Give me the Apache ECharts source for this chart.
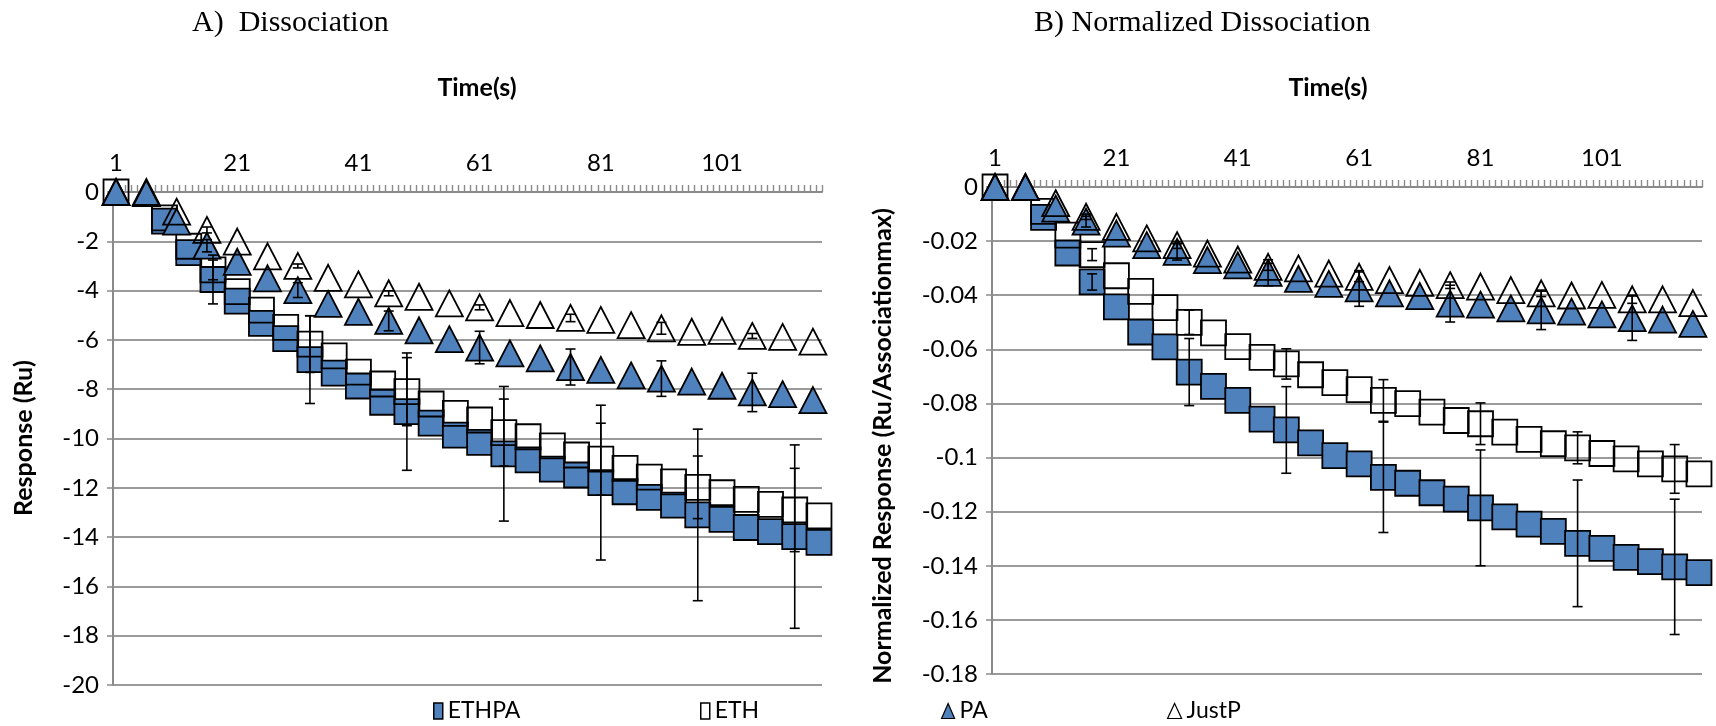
<!DOCTYPE html>
<html>
<head>
<meta charset="utf-8">
<script src="https://cdn.jsdelivr.net/npm/echarts@6/dist/echarts.min.js"></script>
<style>
  html, body { margin: 0; padding: 0; background: #fff; }
  #chart { width: 1716px; height: 726px; }
</style>
</head>
<body>
<div id="chart"></div>
<script>
// Time axis (s): one category per second
const timeLabels = Array.from({ length: 117 }, (_, i) => String(i + 1));

// Sampling times: ETHPA squares, ETH squares, PA / JustP triangles
const ethpaTimes = [9, 13, 17, 21, 25, 29, 33, 37, 41, 45, 49, 53, 57, 61, 65, 69, 73, 77, 81, 85, 89, 93, 97, 101, 105, 109, 113, 117];
const ethTimes = [1, 9, 13, 17, 21, 25, 29, 33, 37, 41, 45, 49, 53, 57, 61, 65, 69, 73, 77, 81, 85, 89, 93, 97, 101, 105, 109, 113, 117];
const triangleTimes = [1, 6, 11, 16, 21, 26, 31, 36, 41, 46, 51, 56, 61, 66, 71, 76, 81, 86, 91, 96, 101, 106, 111, 116];

// Times carrying error bars
const squareErrTimes = [17, 33, 49, 65, 81, 97, 113];
const triangleErrTimes = [16, 31, 46, 61, 76, 91, 106];

// A) Dissociation, response (Ru)
const ethpaA = [-1.18, -2.46, -3.55, -4.43, -5.33, -5.95, -6.8, -7.35, -7.87, -8.53, -8.91, -9.38, -9.86, -10.16, -10.62, -10.87, -11.24, -11.48, -11.79, -12.16, -12.39, -12.70, -13.10, -13.28, -13.61, -13.78, -13.98, -14.21];
const ethA = [0, -1.05, -2.2, -3.16, -4.04, -4.79, -5.49, -6.17, -6.65, -7.31, -7.79, -8.10, -8.6, -8.98, -9.25, -9.76, -9.93, -10.30, -10.67, -10.84, -11.21, -11.57, -11.76, -11.98, -12.20, -12.47, -12.67, -12.90, -13.14];
const paA = [0, -0.05, -1.2, -2.18, -2.83, -3.5, -3.98, -4.54, -4.86, -5.23, -5.61, -5.97, -6.31, -6.55, -6.75, -7.1, -7.22, -7.44, -7.57, -7.69, -7.86, -8.13, -8.2, -8.44];
const justpA = [0, 0, -0.8, -1.54, -2.01, -2.61, -3.0, -3.48, -3.75, -4.11, -4.25, -4.52, -4.68, -4.91, -4.99, -5.11, -5.19, -5.4, -5.53, -5.67, -5.63, -5.84, -5.88, -6.07];
const ethpaErrA = [0.99, 1.78, 2.38, 2.73, 3.14, 3.48, 3.72];
const ethErrA = [0.4, 1.15, 1.38, 1.36, 1.46, 1.27, 1.69];
const paErrA = [0.25, 0.3, 0.4, 0.66, 0.73, 0.72, 0.78];
const justpErrA = [0.12, 0.08, 0.1, 0.1, 0.15, 0.24, 0.1];

// B) Normalized dissociation (Ru/Associationmax)
const ethpaB = [-0.0112, -0.0244, -0.0351, -0.0443, -0.0536, -0.0591, -0.0684, -0.0737, -0.0789, -0.0858, -0.0898, -0.0946, -0.0993, -0.1023, -0.1073, -0.1095, -0.113, -0.1154, -0.1186, -0.1219, -0.1246, -0.1273, -0.1317, -0.1336, -0.1369, -0.1385, -0.1404, -0.1425];
const ethB = [0, -0.009, -0.0178, -0.025, -0.0328, -0.0386, -0.0446, -0.05, -0.0539, -0.059, -0.063, -0.0654, -0.0694, -0.0723, -0.0749, -0.0789, -0.0801, -0.0832, -0.0863, -0.0875, -0.0906, -0.0933, -0.0949, -0.0964, -0.0985, -0.1005, -0.1023, -0.1042, -0.106];
const paB = [0, 0, -0.008, -0.0128, -0.0172, -0.0215, -0.024, -0.027, -0.029, -0.0317, -0.034, -0.0358, -0.0375, -0.0393, -0.0403, -0.0431, -0.0435, -0.0449, -0.0456, -0.0461, -0.0471, -0.0485, -0.049, -0.0506];
const justpB = [0, 0, -0.006, -0.011, -0.0147, -0.019, -0.0215, -0.0246, -0.0268, -0.0295, -0.0301, -0.032, -0.0332, -0.0344, -0.0354, -0.0363, -0.0368, -0.0381, -0.0393, -0.0401, -0.0399, -0.0415, -0.0415, -0.0429];
const ethpaErrB = [0.003, 0.0124, 0.016, 0.0204, 0.0214, 0.0234, 0.025];
const ethErrB = [0.0022, 0.0045, 0.0056, 0.0077, 0.0077, 0.0059, 0.009];
const paErrB = [0.002, 0.003, 0.0048, 0.0066, 0.0068, 0.0071, 0.0082];
const justpErrB = [0.001, 0.0012, 0.0013, 0.0018, 0.0012, 0.0012, 0.0015];

const BLUE = '#4f81bd';
const AXIS_GRAY = '#8a8a8a';
const GRID_GRAY = '#9a9a9a';
const NUM_FONT = 'Lato';

function points(times, values) {
  return times.map((t, i) => [t - 1, values[i]]);
}
function bars(errTimes, times, values, errs) {
  return errTimes.map((t, i) => {
    const v = values[times.indexOf(t)];
    return [t - 1, v - errs[i], v + errs[i]];
  });
}

function renderErrorBar(params, api) {
  const x = api.value(0);
  const top = api.coord([x, api.value(2)]);
  const bottom = api.coord([x, api.value(1)]);
  const half = 5;
  const style = { stroke: '#000', lineWidth: 1.6 };
  return {
    type: 'group',
    children: [
      { type: 'line', shape: { x1: top[0], y1: top[1], x2: bottom[0], y2: bottom[1] }, style },
      { type: 'line', shape: { x1: top[0] - half, y1: top[1], x2: top[0] + half, y2: top[1] }, style },
      { type: 'line', shape: { x1: bottom[0] - half, y1: bottom[1], x2: bottom[0] + half, y2: bottom[1] }, style }
    ]
  };
}

const filledMark = { color: BLUE, borderColor: '#000', borderWidth: 1.8, opacity: 1 };
const openMark = { color: 'rgba(255,255,255,0)', borderColor: '#000', borderWidth: 1.8, opacity: 1 };

function panelSeries(idx, ethpa, eth, pa, justp, eEthpa, eEth, ePa, eJustp) {
  const common = { xAxisIndex: idx, yAxisIndex: idx, silent: true, emphasis: { disabled: true } };
  const list = [
    { ...common, name: 'ETHPA', type: 'scatter', symbol: 'rect', symbolSize: 25, z: 2, itemStyle: filledMark, data: points(ethpaTimes, ethpa) },
    { ...common, name: 'ETH', type: 'scatter', symbol: 'rect', symbolSize: 25, z: 3, itemStyle: openMark, data: points(ethTimes, eth) },
    { ...common, name: 'PA', type: 'scatter', symbol: 'triangle', symbolSize: [27, 26], z: 4, itemStyle: filledMark, data: points(triangleTimes, pa) },
    { ...common, name: 'JustP', type: 'scatter', symbol: 'triangle', symbolSize: [27, 26], z: 5, itemStyle: openMark, data: points(triangleTimes, justp) }
  ];
  const errs = [
    bars(squareErrTimes, ethpaTimes, ethpa, eEthpa),
    bars(squareErrTimes, ethTimes, eth, eEth),
    bars(triangleErrTimes, triangleTimes, pa, ePa),
    bars(triangleErrTimes, triangleTimes, justp, eJustp)
  ];
  errs.forEach((d, k) => {
    list.push({ ...common, name: 'err' + idx + '_' + k, type: 'custom', z: 6, renderItem: renderErrorBar, encode: { x: 0, y: [1, 2] }, data: d });
  });
  return list;
}

function xAxisFor(idx) {
  return {
    type: 'category', gridIndex: idx, position: 'top', data: timeLabels, boundaryGap: true,
    axisLine: { show: true, lineStyle: { color: AXIS_GRAY, width: 2 } },
    axisTick: { show: true, interval: 0, length: 7, lineStyle: { color: AXIS_GRAY, width: 1.4 } },
    axisLabel: { interval: 19, margin: 17, color: '#000', fontFamily: NUM_FONT, fontSize: 24 },
    splitLine: { show: false }
  };
}
function yAxisFor(idx, min, interval) {
  return {
    type: 'value', gridIndex: idx, min: min, max: 0, interval: interval,
    axisLine: { show: true, lineStyle: { color: AXIS_GRAY, width: 2 } },
    axisTick: { show: true, length: 6, lineStyle: { color: AXIS_GRAY, width: 1.5 } },
    axisLabel: { margin: 14, color: '#000', fontFamily: NUM_FONT, fontSize: 24 },
    splitLine: { show: true, lineStyle: { color: GRID_GRAY, width: 2 } }
  };
}

function legendFor(left, name, icon, w, h, style) {
  return {
    left: left, top: 698, padding: 0, itemWidth: w, itemHeight: h, selectedMode: false,
    textStyle: { fontFamily: NUM_FONT, fontSize: 23, color: '#000', lineHeight: 26 },
    data: [{ name: name, icon: icon, itemStyle: style }]
  };
}

const chart = echarts.init(document.getElementById('chart'), null, { renderer: 'canvas' });
chart.setOption({
  animation: false,
  backgroundColor: '#fff',
  grid: [
    { left: 113, top: 192, width: 709, height: 493 },
    { left: 992, top: 187, width: 710, height: 487 }
  ],
  xAxis: [xAxisFor(0), xAxisFor(1)],
  yAxis: [yAxisFor(0, -20, 2), yAxisFor(1, -0.18, 0.02)],
  legend: [
    legendFor(433, 'ETHPA', 'rect', 9, 16, { color: BLUE, borderColor: '#000', borderWidth: 1.5, opacity: 1 }),
    legendFor(700, 'ETH', 'rect', 9, 16, { color: '#fff', borderColor: '#000', borderWidth: 1.5, opacity: 1 }),
    legendFor(941, 'PA', 'triangle', 13, 15, { color: BLUE, borderColor: '#000', borderWidth: 1.2, opacity: 1 }),
    legendFor(1167, 'JustP', 'triangle', 14, 15, { color: '#fff', borderColor: '#000', borderWidth: 1.2, opacity: 1 })
  ],
  graphic: [
    { type: 'text', style: { x: 192, y: 23, text: 'A)  Dissociation', font: '30px "Liberation Serif"', fill: '#000', align: 'left', verticalAlign: 'middle' } },
    { type: 'text', style: { x: 1034, y: 23, text: 'B) Normalized Dissociation', font: '30px "Liberation Serif"', fill: '#000', align: 'left', verticalAlign: 'middle' } },
    { type: 'text', style: { x: 477, y: 88, text: 'Time(s)', font: 'bold 25px Lato', fill: '#000', align: 'center', verticalAlign: 'middle' } },
    { type: 'text', style: { x: 1328, y: 88, text: 'Time(s)', font: 'bold 25px Lato', fill: '#000', align: 'center', verticalAlign: 'middle' } },
    { type: 'text', x: 24, y: 438, rotation: Math.PI / 2, style: { x: 0, y: 0, text: 'Response (Ru)', font: 'bold 25px Lato', fill: '#000', align: 'center', verticalAlign: 'middle' } },
    { type: 'text', x: 883, y: 446, rotation: Math.PI / 2, style: { x: 0, y: 0, text: 'Normalized Response (Ru/Associationmax)', font: 'bold 25px Lato', fill: '#000', align: 'center', verticalAlign: 'middle' } }
  ],
  series: [
    ...panelSeries(0, ethpaA, ethA, paA, justpA, ethpaErrA, ethErrA, paErrA, justpErrA),
    ...panelSeries(1, ethpaB, ethB, paB, justpB, ethpaErrB, ethErrB, paErrB, justpErrB)
  ]
});
</script>
</body>
</html>
